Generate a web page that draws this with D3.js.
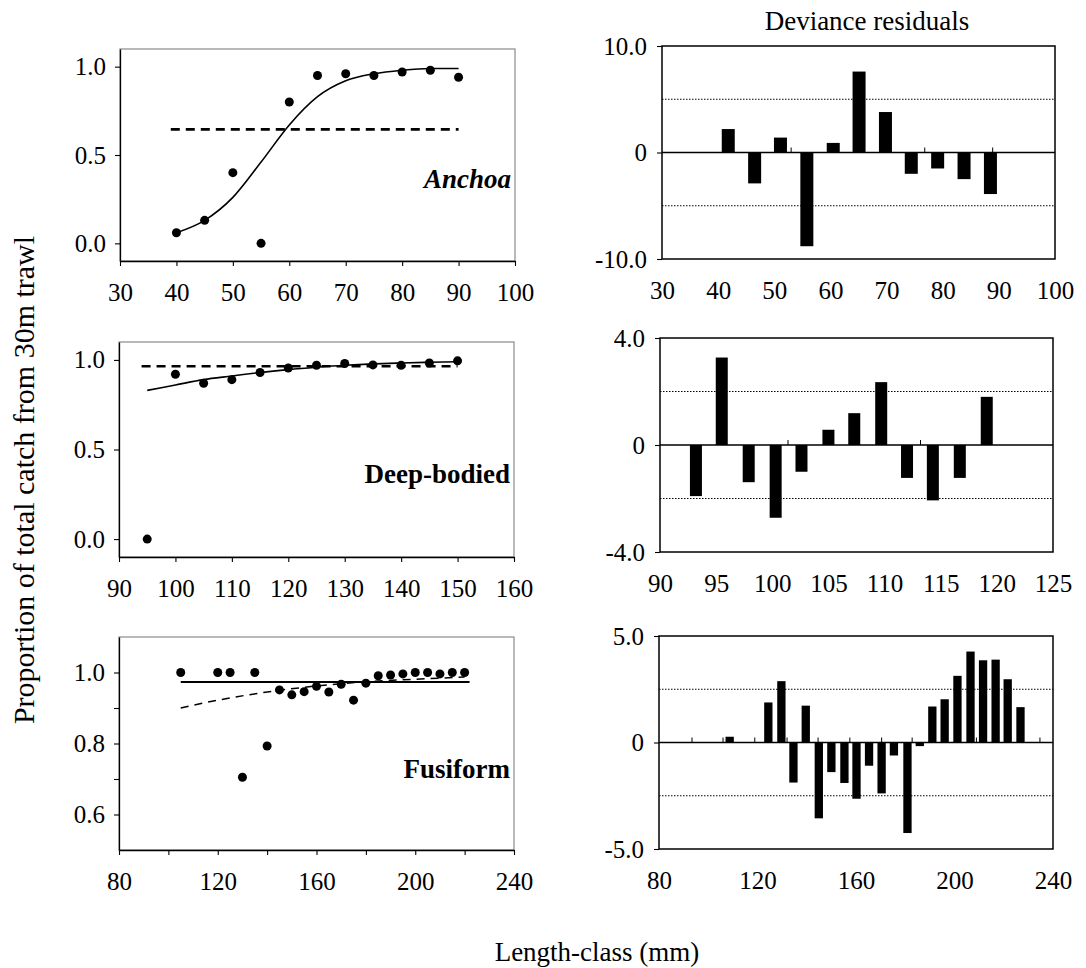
<!DOCTYPE html>
<html>
<head>
<meta charset="utf-8">
<script src="https://cdn.jsdelivr.net/npm/d3@7"></script>
<style>
body { margin: 0; background: #fff; }
text { font-family: "Liberation Serif", "Times New Roman", serif; }
</style>
</head>
<body>
<svg id="fig" width="1086" height="968"></svg>
<script>
// ---- datos ----
const anchoaLen = [40, 45, 50, 55, 60, 65, 70, 75, 80, 85, 90];
const anchoaProp = [0.06, 0.13, 0.40, 0.00, 0.80, 0.95, 0.96, 0.95, 0.97, 0.98, 0.94];
const anchoaFit = [0.06, 0.13, 0.26, 0.46, 0.67, 0.83, 0.92, 0.96, 0.98, 0.99, 0.99];
const anchoaMedia = 0.645;
const anchoaMediaRango = [39, 90];

const deepLen = [95, 100, 105, 110, 115, 120, 125, 130, 135, 140, 145, 150];
const deepProp = [0.00, 0.92, 0.87, 0.89, 0.93, 0.955, 0.97, 0.98, 0.972, 0.97, 0.983, 0.995];
const deepFit = [0.83, 0.86, 0.89, 0.91, 0.93, 0.946, 0.959, 0.97, 0.978, 0.983, 0.987, 0.99];
const deepMedia = 0.965;
const deepMediaRango = [94, 150];

const fusiLen = [105, 120, 125, 130, 135, 140, 145, 150, 155, 160, 165, 170, 175, 180, 185, 190, 195, 200, 205, 210, 215, 220];
const fusiProp = [1.0, 1.0, 1.0, 0.705, 1.0, 0.793, 0.951, 0.937, 0.946, 0.961, 0.945, 0.967, 0.922, 0.97, 0.991, 0.993, 0.996, 1.0, 1.0, 0.996, 1.0, 1.0];
const fusiFitLen = [105, 120, 140, 160, 180, 200, 220];
const fusiFit = [0.90, 0.922, 0.945, 0.962, 0.974, 0.981, 0.987];
const fusiMedia = 0.973;
const fusiMediaRango = [105, 222];

// residuos de devianza
const anchoaResX = [41.8, 46.5, 51.1, 55.8, 60.5, 65.1, 69.8, 74.4, 79.1, 83.8, 88.5];
const anchoaRes = [2.2, -2.9, 1.4, -8.8, 0.9, 7.6, 3.8, -2.0, -1.5, -2.5, -3.9];
const anchoaMarcasCero = [53.0, 76.8, 88.9];

const deepResX = [93.2, 95.5, 97.9, 100.3, 102.6, 105.0, 107.3, 109.7, 112.0, 114.3, 116.7, 119.1];
const deepRes = [-1.91, 3.27, -1.39, -2.72, -1.0, 0.57, 1.19, 2.35, -1.23, -2.07, -1.23, 1.8];
const deepMarcasCero = [101.4, 113.2];

const fusiResX = [108.7, 124.4, 129.7, 134.6, 139.6, 144.9, 150.0, 155.3, 160.2, 165.3, 170.4, 175.4, 180.9, 185.9, 191.0, 196.0, 201.2, 206.5, 211.6, 216.7, 221.6, 226.8];
const fusiRes = [0.27, 1.88, 2.88, -1.88, 1.73, -3.56, -1.39, -1.9, -2.64, -1.09, -2.39, -0.61, -4.25, -0.17, 1.69, 2.03, 3.13, 4.27, 3.86, 3.89, 2.97, 1.66];
const fusiMarcasCero = [93.4, 106, 118.9, 132, 144.6, 157.5, 170.4, 182.8, 208.9, 234.7];

// ticks
const ticksX1 = [30, 40, 50, 60, 70, 80, 90, 100];
const ticksX2 = [90, 100, 110, 120, 130, 140, 150, 160];
const ticksX3 = [80, 100, 120, 140, 160, 180, 200, 220, 240];
const etiquetasX3 = [80, 120, 160, 200, 240];
const ticksXR2 = [90, 95, 100, 105, 110, 115, 120, 125];
const ticksXR3 = [80, 120, 160, 200, 240];
const ticksProp = [0.0, 0.5, 1.0];
const ticksFusi = [0.6, 0.7, 0.8, 0.9, 1.0];
const etiquetasFusi = [0.6, 0.8, 1.0];

const svg = d3.select("#fig");
const FUENTE = "'Liberation Serif', 'Times New Roman', serif";
const FS = "25px";

function estiloEje(g) {
    g.attr("font-family", FUENTE).attr("font-size", FS);
    g.select(".domain").attr("stroke", "#000").attr("stroke-width", 1.3);
    g.selectAll(".tick line").attr("stroke", "#000").attr("stroke-width", 1.1);
    g.selectAll(".tick text")
        .attr("fill", "#000")
        .style("font-family", FUENTE)
        .style("font-size", FS);
}

function graficarProporcion(p) {
    const x = d3.scaleLinear().domain(p.xDom).range([p.left, p.right]);
    const y = d3.scaleLinear().domain(p.yDom).range([p.bottom, p.top]);

    // borde gris del area de trazado
    svg.append("rect")
        .attr("x", p.left).attr("y", p.top)
        .attr("width", p.right - p.left).attr("height", p.bottom - p.top)
        .attr("fill", "none").attr("stroke", "#8a8a8a").attr("stroke-width", 1.2);

    svg.append("g")
        .attr("transform", `translate(0,${p.bottom})`)
        .call(d3.axisBottom(x).tickValues(p.xTicks)
            .tickFormat(d => p.xLabels.includes(d) ? d : "")
            .tickSize(5).tickSizeOuter(0).tickPadding(17))
        .call(estiloEje);

    svg.append("g")
        .attr("transform", `translate(${p.left},0)`)
        .call(d3.axisLeft(y).tickValues(p.yTicks)
            .tickFormat(d => p.yLabels.includes(d) ? d3.format(".1f")(d) : "")
            .tickSize(5).tickSizeOuter(0).tickPadding(9))
        .call(estiloEje);

    // linea media horizontal
    svg.append("line")
        .attr("x1", x(p.mediaRango[0])).attr("x2", x(p.mediaRango[1]))
        .attr("y1", y(p.media)).attr("y2", y(p.media))
        .attr("stroke", "#000")
        .attr("stroke-width", p.mediaDash ? 2.6 : 2)
        .attr("stroke-dasharray", p.mediaDash ? "9,6" : null);

    // curva ajustada
    const linea = d3.line()
        .x((d, i) => x(p.fitLen[i]))
        .y(d => y(d))
        .curve(d3.curveMonotoneX);

    svg.append("path")
        .datum(p.fit)
        .attr("fill", "none")
        .attr("stroke", "#000")
        .attr("stroke-width", p.fitDash ? 1.5 : 1.6)
        .attr("stroke-dasharray", p.fitDash ? "8,6" : null)
        .attr("d", linea);

    svg.append("g").selectAll("circle")
        .data(p.prop)
        .enter()
        .append("circle")
        .attr("cx", (d, i) => x(p.len[i]))
        .attr("cy", d => y(d))
        .attr("r", 4.5)
        .attr("fill", "#000");

    svg.append("text")
        .attr("x", p.right - 4).attr("y", p.labelY)
        .attr("text-anchor", "end")
        .style("font-family", FUENTE)
        .style("font-size", "27px")
        .style("font-weight", "bold")
        .style("font-style", p.italic ? "italic" : "normal")
        .text(p.nombre);
}

function graficarResiduos(p) {
    const x = d3.scaleLinear().domain(p.xDom).range([p.left, p.right]);
    const y = d3.scaleLinear().domain([-p.yMax, p.yMax]).range([p.bottom, p.top]);

    // lineas punteadas
    [p.lim, -p.lim].forEach(v => {
        svg.append("line")
            .attr("x1", p.left).attr("x2", p.right)
            .attr("y1", y(v)).attr("y2", y(v))
            .attr("stroke", "#000").attr("stroke-width", 1)
            .attr("stroke-dasharray", "1.5,1.5");
    });

    svg.append("g").selectAll("rect")
        .data(p.res)
        .enter()
        .append("rect")
        .attr("x", (d, i) => x(p.resX[i]) - p.barW / 2)
        .attr("y", d => y(Math.max(0, d)))
        .attr("width", p.barW)
        .attr("height", d => Math.abs(y(d) - y(0)))
        .attr("fill", "#000");

    // linea cero y marcas del eje de categorias
    svg.append("line")
        .attr("x1", p.left).attr("x2", p.right)
        .attr("y1", y(0)).attr("y2", y(0))
        .attr("stroke", "#000").attr("stroke-width", 1.5);

    svg.append("g").selectAll("line")
        .data(p.marcas)
        .enter()
        .append("line")
        .attr("x1", d => x(d)).attr("x2", d => x(d))
        .attr("y1", y(0)).attr("y2", y(0) - 5)
        .attr("stroke", "#000").attr("stroke-width", 1);

    svg.append("rect")
        .attr("x", p.left).attr("y", p.top)
        .attr("width", p.right - p.left).attr("height", p.bottom - p.top)
        .attr("fill", "none").attr("stroke", "#000").attr("stroke-width", 1.5);

    svg.append("g")
        .attr("transform", `translate(0,${p.bottom})`)
        .call(d3.axisBottom(x).tickValues(p.xTicks).tickFormat(d => d)
            .tickSize(0).tickSizeOuter(0).tickPadding(22))
        .call(estiloEje)
        .call(g => g.select(".domain").remove());

    svg.append("g")
        .attr("transform", `translate(${p.left},0)`)
        .call(d3.axisLeft(y).tickValues([p.yMax, 0, -p.yMax])
            .tickFormat(d => d === 0 ? "0" : d3.format(".1f")(d).replace("\u2212", "-"))
            .tickSize(5).tickSizeOuter(0).tickPadding(10))
        .call(estiloEje)
        .call(g => g.select(".domain").remove());
}

graficarProporcion({
    left: 120, right: 515, top: 49, bottom: 261,
    xDom: [30, 100], yDom: [-0.1, 1.1],
    xTicks: ticksX1, xLabels: ticksX1, yTicks: ticksProp, yLabels: ticksProp,
    len: anchoaLen, prop: anchoaProp, fitLen: anchoaLen, fit: anchoaFit, fitDash: false,
    media: anchoaMedia, mediaRango: anchoaMediaRango, mediaDash: true,
    nombre: "Anchoa", italic: true, labelY: 188
});

graficarProporcion({
    left: 119, right: 514, top: 342, bottom: 557,
    xDom: [90, 160], yDom: [-0.1, 1.1],
    xTicks: ticksX2, xLabels: ticksX2, yTicks: ticksProp, yLabels: ticksProp,
    len: deepLen, prop: deepProp, fitLen: deepLen, fit: deepFit, fitDash: false,
    media: deepMedia, mediaRango: deepMediaRango, mediaDash: true,
    nombre: "Deep-bodied", italic: false, labelY: 483
});

graficarProporcion({
    left: 119, right: 514, top: 637, bottom: 850,
    xDom: [80, 240], yDom: [0.5, 1.1],
    xTicks: ticksX3, xLabels: etiquetasX3, yTicks: ticksFusi, yLabels: etiquetasFusi,
    len: fusiLen, prop: fusiProp, fitLen: fusiFitLen, fit: fusiFit, fitDash: true,
    media: fusiMedia, mediaRango: fusiMediaRango, mediaDash: false,
    nombre: "Fusiform", italic: false, labelY: 778
});

graficarResiduos({
    left: 662, right: 1055, top: 46, bottom: 259,
    xDom: [30, 100], yMax: 10, lim: 5, xTicks: ticksX1,
    resX: anchoaResX, res: anchoaRes, marcas: anchoaMarcasCero, barW: 13
});

graficarResiduos({
    left: 660, right: 1053, top: 338, bottom: 552,
    xDom: [90, 125], yMax: 4, lim: 2, xTicks: ticksXR2,
    resX: deepResX, res: deepRes, marcas: deepMarcasCero, barW: 12
});

graficarResiduos({
    left: 659, right: 1053, top: 636, bottom: 849,
    xDom: [80, 240], yMax: 5, lim: 2.5, xTicks: ticksXR3,
    resX: fusiResX, res: fusiRes, marcas: fusiMarcasCero, barW: 8.3
});

// titulos
svg.append("text")
    .attr("x", 867).attr("y", 30)
    .attr("text-anchor", "middle")
    .style("font-family", FUENTE)
    .style("font-size", "27px")
    .text("Deviance residuals");

svg.append("text")
    .attr("transform", "translate(34,480) rotate(-90)")
    .attr("text-anchor", "middle")
    .style("font-family", FUENTE)
    .style("font-size", "30px")
    .text("Proportion of total catch from 30m trawl");

svg.append("text")
    .attr("x", 597).attr("y", 961)
    .attr("text-anchor", "middle")
    .style("font-family", FUENTE)
    .style("font-size", "27px")
    .text("Length-class (mm)");
</script>
</body>
</html>
